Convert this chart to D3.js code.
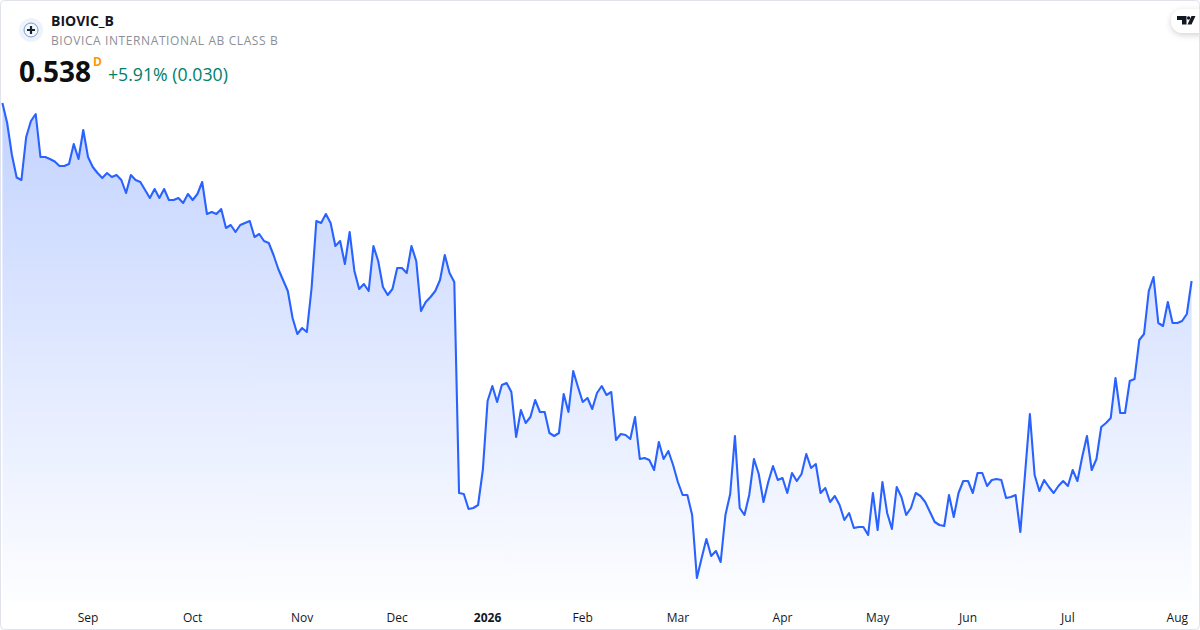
<!DOCTYPE html>
<html><head><meta charset="utf-8">
<script src="https://cdn.jsdelivr.net/npm/d3@7"></script>
<style>html,body{margin:0;padding:0;background:#fff}svg{display:block}text{font-family:"Open Sans",sans-serif}</style>
</head><body><svg id="c" width="1200" height="630"></svg>
<script>
const symbol = "BIOVIC_B";
const companyName = "BIOVICA INTERNATIONAL AB CLASS B";
const lastPrice = "0.538";
const interval = "D";
const changeText = "+5.91% (0.030)";
const closes = [
.716,.696,.664,.6415,.639,.682,.698,.705,.662,.662,.660,.6575,.653,.653,.655,.675,.660,.689,.662,.652,
.646,.641,.646,.642,.644,.639,.626,.644,.639,.637,.629,.621,.630,.621,.630,.619,.619,.621,.616,.625,
.619,.625,.637,.605,.607,.605,.610,.591,.594,.587,.594,.596,.598,.582,.585,.578,.576,.564,.550,.539,
.528,.501,.485,.491,.487,.531,.598,.596,.605,.596,.573,.578,.555,.587,.548,.530,.535,.528,.573,.558,
.532,.524,.530,.551,.551,.546,.573,.558,.508,.517,.522,.528,.539,.564,.546,.537,.326,.325,.310,.311,
.314,.349,.418,.433,.417,.434,.436,.427,.382,.409,.396,.402,.419,.407,.407,.386,.383,.386,.425,.407,
.448,.432,.417,.421,.410,.426,.433,.424,.427,.379,.385,.384,.380,.402,.360,.361,.359,.349,.377,.360,
.368,.354,.337,.324,.324,.304,.241,.261,.280,.263,.268,.257,.304,.325,.383,.311,.304,.324,.360,.345,
.317,.337,.353,.339,.341,.326,.346,.338,.345,.365,.351,.355,.326,.331,.317,.323,.314,.299,.306,.291,
.292,.292,.284,.326,.289,.337,.306,.290,.332,.322,.304,.311,.326,.323,.317,.307,.297,.294,.293,.324,
.302,.326,.338,.338,.326,.346,.346,.333,.339,.340,.339,.321,.322,.324,.287,.346,.405,.344,.328,.339,
.332,.326,.333,.338,.333,.349,.338,.362,.383,.349,.360,.392,.396,.401,.441,.406,.406,.438,.440,.479,
.485,.528,.542,.496,.493,.517,.496,.496,.498,.505,.538
];
const tickIndex = [18,40,63,83,102,122,142,164,184,203,224,247];
const tickNames = ["Sep","Oct","Nov","Dec","2026","Feb","Mar","Apr","May","Jun","Jul","Aug"];
const boldTicks = ["2026"];

const svg = d3.select("#c");
const defs = svg.append("defs");
const grad = defs.append("linearGradient").attr("id","fill")
  .attr("gradientUnits","userSpaceOnUse").attr("x1",0).attr("x2",0).attr("y1",103).attr("y2",601);
grad.append("stop").attr("offset",0).attr("stop-color","#2962FF").attr("stop-opacity",.28);
grad.append("stop").attr("offset",1).attr("stop-color","#2962FF").attr("stop-opacity",.01);
const sh = defs.append("filter").attr("id","sh").attr("x","-40%").attr("y","-60%").attr("width","180%").attr("height","220%");
sh.append("feDropShadow").attr("dx",0).attr("dy",2).attr("stdDeviation",3).attr("flood-color","#000").attr("flood-opacity",.18);

const x = d3.scaleLinear().domain([0,closes.length-1]).range([2.4,1191.6]);
const y = d3.scaleLinear().domain([.242,.716]).range([577,103]);
const bottom = 601;

svg.append("path").datum(closes).attr("fill","url(#fill)")
  .attr("d",d3.area().x((d,i)=>x(i)).y0(bottom).y1(d=>y(d)));
svg.append("path").datum(closes).attr("fill","none").attr("stroke","#2962FF").attr("stroke-width",2.1).attr("stroke-linejoin","round")
  .attr("d",d3.line().x((d,i)=>x(i)).y(d=>y(d)));

const axis = d3.axisBottom(x).tickValues(tickIndex).tickSize(0).tickPadding(0).tickFormat((d,i)=>tickNames[i]);
const ax = svg.append("g").attr("transform","translate(-0.5,622)").call(axis);
ax.select(".domain").remove();
ax.selectAll("text").attr("y",0).attr("dy",0).attr("fill","#131722")
  .style("font-family","'Open Sans',sans-serif").style("font-size","12px")
  .style("font-weight",(d,i)=>boldTicks.includes(tickNames[i])?700:400);

// header
const logo = svg.append("g").attr("transform","translate(31,30)");
logo.append("circle").attr("r",12).attr("fill","#eef3fb");
logo.append("circle").attr("r",7).attr("fill","#f4f8fd").attr("stroke","#6fa0d4").attr("stroke-width",1);
logo.append("path").attr("d","M-4 0H4M0 -4V4").attr("stroke","#1b2230").attr("stroke-width",2.2);

svg.append("text").attr("x",51).attr("y",26).attr("font-size",14).attr("font-weight",700).attr("fill","#131722").text(symbol);
svg.append("text").attr("x",51).attr("y",45).attr("font-size",12).attr("letter-spacing",.6).attr("fill","#8c8f98").text(companyName);
svg.append("text").attr("x",19).attr("y",81.5).attr("font-size",28).attr("font-weight",700).attr("fill","#0f0f0f").text(lastPrice);
svg.append("text").attr("x",93).attr("y",66).attr("font-size",12).attr("font-weight",700).attr("fill","#ff9800").text(interval);
svg.append("text").attr("x",108).attr("y",81).attr("font-size",17.7).attr("fill","#00806a").text(changeText);

// TradingView badge
svg.append("rect").attr("x",1171).attr("y",9).attr("width",50).attr("height",24).attr("rx",12).attr("fill","#fff").attr("filter","url(#sh)");
svg.append("path").attr("fill","#131722").attr("d","M1177 16H1186.5V24.5H1182V20H1177Z M1191.5 16H1195.5L1191.5 24.5H1187.5Z");
svg.append("circle").attr("cx",1188.6).attr("cy",18).attr("r",1.7).attr("fill","#131722");

// frame
svg.append("rect").attr("x",.5).attr("y",.5).attr("width",1199).attr("height",629).attr("rx",4).attr("fill","none").attr("stroke","#e0e3eb");
</script></body></html>
